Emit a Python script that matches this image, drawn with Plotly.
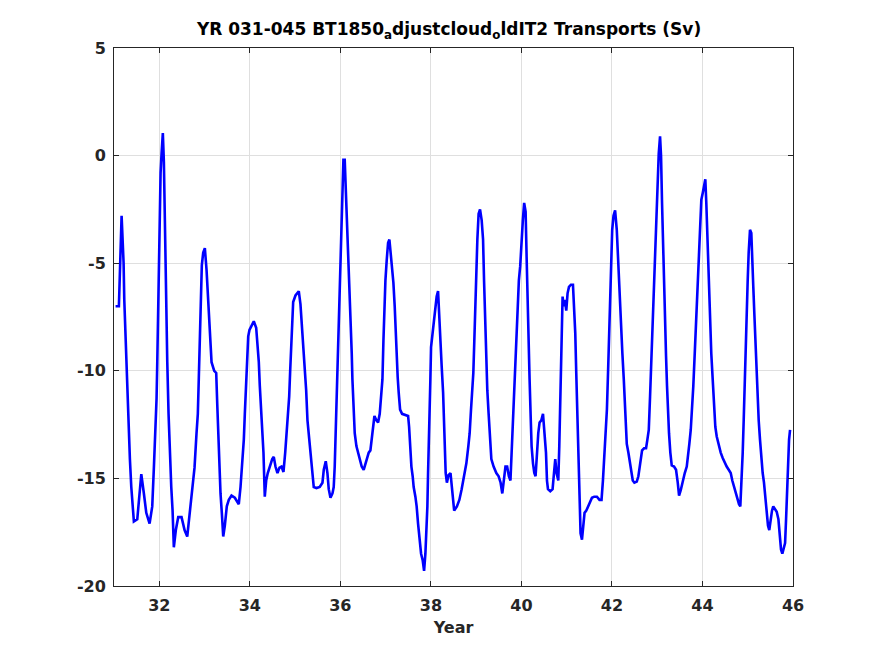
import plotly.graph_objects as go

# time (model year) and transport (Sv)
year = [
    31.035, 31.108, 31.168, 31.212, 31.227, 31.256, 31.278, 31.307, 31.329, 31.351,
    31.382, 31.411, 31.439, 31.514, 31.550, 31.603, 31.660, 31.713, 31.786, 31.845,
    31.881, 31.912, 31.940, 31.956, 31.978, 32.000, 32.029, 32.051, 32.079, 32.102,
    32.124, 32.146, 32.177, 32.205, 32.234, 32.265, 32.294, 32.322, 32.366, 32.419,
    32.492, 32.559, 32.618, 32.676, 32.728, 32.779, 32.823, 32.852, 32.874, 32.896,
    32.918, 32.940, 32.971, 33.007, 33.044, 33.073, 33.095, 33.126, 33.155, 33.214,
    33.258, 33.280, 33.302, 33.331, 33.353, 33.382, 33.413, 33.448, 33.492, 33.536,
    33.596, 33.669, 33.722, 33.757, 33.795, 33.832, 33.868, 33.890, 33.921, 33.943,
    33.965, 33.993, 34.038, 34.088, 34.141, 34.177, 34.199, 34.221, 34.252, 34.274,
    34.302, 34.331, 34.362, 34.397, 34.435, 34.464, 34.495, 34.530, 34.567, 34.611,
    34.656, 34.700, 34.744, 34.782, 34.810, 34.839, 34.870, 34.892, 34.914, 34.936,
    34.958, 35.009, 35.082, 35.119, 35.148, 35.179, 35.201, 35.223, 35.245, 35.274,
    35.302, 35.340, 35.369, 35.391, 35.413, 35.473, 35.545, 35.605, 35.634, 35.678,
    35.715, 35.744, 35.782, 35.826, 35.854, 35.876, 35.892, 35.914, 35.936, 35.958,
    35.974, 35.996, 36.018, 36.031, 36.046, 36.068, 36.097, 36.119, 36.141, 36.163,
    36.185, 36.207, 36.229, 36.252, 36.267, 36.289, 36.318, 36.355, 36.393, 36.428,
    36.472, 36.516, 36.576, 36.627, 36.664, 36.687, 36.715, 36.753, 36.797, 36.834,
    36.870, 36.901, 36.930, 36.952, 36.974, 36.996, 37.025, 37.055, 37.084, 37.113,
    37.144, 37.172, 37.201, 37.223, 37.245, 37.267, 37.289, 37.320, 37.364, 37.422,
    37.497, 37.519, 37.541, 37.570, 37.598, 37.620, 37.658, 37.686, 37.717, 37.746,
    37.784, 37.819, 37.850, 37.879, 37.901, 37.923, 37.938, 37.951, 37.973, 37.989,
    38.004, 38.027, 38.055, 38.077, 38.106, 38.128, 38.159, 38.181, 38.210, 38.239,
    38.270, 38.292, 38.305, 38.327, 38.354, 38.390, 38.434, 38.465, 38.487, 38.515,
    38.575, 38.629, 38.680, 38.740, 38.784, 38.828, 38.857, 38.887, 38.916, 38.938,
    38.960, 38.982, 39.004, 39.027, 39.055, 39.086, 39.122, 39.153, 39.175, 39.197,
    39.225, 39.247, 39.276, 39.307, 39.336, 39.386, 39.446, 39.497, 39.541, 39.578,
    39.613, 39.648, 39.685, 39.723, 39.758, 39.789, 39.818, 39.847, 39.877, 39.913,
    39.944, 39.973, 40.001, 40.032, 40.061, 40.093, 40.115, 40.137, 40.159, 40.181,
    40.203, 40.225, 40.256, 40.285, 40.313, 40.344, 40.373, 40.402, 40.440, 40.477,
    40.512, 40.543, 40.565, 40.587, 40.638, 40.689, 40.720, 40.748, 40.777, 40.815,
    40.837, 40.866, 40.888, 40.910, 40.932, 40.963, 40.991, 41.020, 41.051, 41.095,
    41.139, 41.168, 41.190, 41.212, 41.234, 41.256, 41.278, 41.307, 41.338, 41.367,
    41.395, 41.433, 41.477, 41.521, 41.559, 41.609, 41.668, 41.726, 41.770, 41.801,
    41.830, 41.858, 41.889, 41.918, 41.940, 41.962, 41.984, 42.006, 42.035, 42.070,
    42.107, 42.129, 42.151, 42.180, 42.202, 42.231, 42.262, 42.284, 42.306, 42.328,
    42.363, 42.401, 42.430, 42.460, 42.496, 42.549, 42.584, 42.615, 42.644, 42.666,
    42.710, 42.754, 42.783, 42.814, 42.842, 42.871, 42.893, 42.915, 42.931, 42.953,
    42.968, 42.990, 43.012, 43.034, 43.063, 43.085, 43.107, 43.129, 43.151, 43.173,
    43.195, 43.217, 43.243, 43.261, 43.290, 43.321, 43.372, 43.416, 43.454, 43.483,
    43.520, 43.564, 43.609, 43.653, 43.682, 43.710, 43.741, 43.770, 43.798, 43.829,
    43.861, 43.890, 43.921, 43.946, 43.975, 44.005, 44.041, 44.063, 44.085, 44.107,
    44.129, 44.151, 44.173, 44.195, 44.226, 44.255, 44.284, 44.315, 44.359, 44.403,
    44.447, 44.491, 44.535, 44.580, 44.624, 44.659, 44.697, 44.734, 44.769, 44.807,
    44.836, 44.867, 44.889, 44.911, 44.933, 44.955, 44.977, 44.999, 45.021, 45.050,
    45.079, 45.101, 45.123, 45.145, 45.167, 45.189, 45.211, 45.242, 45.271, 45.300,
    45.330, 45.359, 45.388, 45.419, 45.448, 45.476, 45.507, 45.536, 45.564, 45.602,
    45.640, 45.678, 45.706, 45.735, 45.764, 45.796, 45.825, 45.847, 45.869, 45.891,
    45.913, 45.935,
]

transport = [
    -7.0, -7.0, -2.8, -5.0, -6.7, -8.4, -10.4, -11.3, -12.7, -14.1,
    -15.4, -16.3, -17.0, -16.9, -16.0, -14.8, -15.7, -16.6, -17.1, -16.3,
    -14.5, -12.9, -11.3, -9.6, -6.2, -3.3, -0.8, 0.1, 1.05, -0.3,
    -3.75, -6.7, -9.6, -12.0, -14.1, -15.4, -16.5, -18.2, -17.4, -16.8,
    -16.8, -17.4, -17.7, -16.5, -15.7, -14.5, -12.9, -12.0, -10.3, -8.6,
    -6.9, -5.1, -4.5, -4.3, -5.3, -6.5, -7.6, -8.9, -9.6, -10.0,
    -10.1, -11.5, -13.1, -14.3, -15.7, -16.6, -17.7, -17.2, -16.3, -16.0,
    -15.8, -15.9, -16.1, -16.2, -15.4, -14.45, -13.2, -12.0, -10.4, -9.2,
    -8.4, -8.1, -7.9, -7.7, -8.0, -8.9, -9.6, -10.7, -11.8, -12.7,
    -13.8, -15.85, -15.1, -14.75, -14.45, -14.3, -14.1, -14.0, -14.45, -14.75,
    -14.5, -14.45, -14.7, -13.8, -13.05, -12.3, -11.2, -10.0, -8.6, -7.3,
    -6.8, -6.5, -6.3, -6.9, -7.8, -8.4, -9.3, -10.1, -10.9, -12.3,
    -12.9, -13.8, -14.3, -14.75, -15.4, -15.45, -15.4, -15.2, -14.6, -14.2,
    -14.75, -15.5, -15.9, -15.7, -15.4, -14.45, -13.2, -12.3, -10.4, -8.6,
    -6.85, -5.15, -3.6, -2.35, -1.6, -0.2, -0.2, -1.4, -2.35, -3.6,
    -4.85, -6.2, -7.6, -9.2, -10.4, -11.7, -12.9, -13.5, -13.8, -14.1,
    -14.45, -14.6, -14.2, -13.8, -13.7, -13.2, -12.6, -12.1, -12.3, -12.4,
    -12.0, -11.2, -10.4, -8.6, -6.7, -5.8, -4.85, -4.05, -3.9, -4.5,
    -5.45, -5.9, -7.0, -8.25, -9.3, -10.3, -11.0, -11.8, -12.0, -12.05,
    -12.1, -12.6, -13.5, -14.45, -14.9, -15.4, -15.85, -16.3, -17.1, -17.9,
    -18.5, -18.8, -19.3, -18.5, -17.55, -16.3, -14.75, -13.2, -11.65, -10.4,
    -8.9, -8.4, -7.9, -7.5, -7.0, -6.55, -6.3, -7.1, -8.6, -9.8,
    -11.0, -12.4, -13.5, -14.75, -15.2, -14.85, -14.75, -15.5, -16.0, -16.5,
    -16.3, -16.0, -15.5, -14.9, -14.3, -13.5, -12.9, -11.8, -10.9, -10.1,
    -8.6, -6.85, -5.45, -3.9, -2.7, -2.5, -3.0, -3.9, -5.8, -7.8,
    -9.8, -10.9, -12.0, -13.2, -14.1, -14.45, -14.75, -14.9, -15.2, -15.7,
    -15.1, -14.45, -14.45, -14.9, -15.1, -13.5, -12.0, -10.4, -8.9, -7.3,
    -5.8, -5.15, -3.9, -3.0, -2.2, -2.6, -4.7, -7.0, -8.9, -10.4,
    -12.0, -13.5, -14.3, -14.75, -14.9, -13.8, -12.9, -12.4, -12.3, -12.0,
    -12.9, -13.8, -15.1, -15.5, -15.6, -15.5, -14.75, -14.1, -14.75, -15.1,
    -13.5, -10.4, -8.1, -6.55, -7.0, -6.7, -7.2, -6.4, -6.1, -6.0,
    -6.0, -7.0, -8.25, -10.1, -12.0, -14.0, -16.0, -17.55, -17.85, -17.2,
    -16.6, -16.5, -16.3, -16.15, -15.9, -15.85, -15.85, -16.0, -16.0, -15.1,
    -14.1, -13.2, -11.8, -9.8, -7.95, -5.8, -4.2, -3.45, -2.8, -2.55,
    -3.45, -4.5, -5.9, -7.2, -8.1, -9.2, -10.4, -11.5, -12.6, -13.4,
    -13.8, -14.3, -14.75, -15.1, -15.2, -15.15, -14.9, -14.45, -14.1, -13.7,
    -13.6, -13.6, -13.2, -12.75, -11.2, -9.5, -7.95, -6.4, -5.15, -3.9,
    -3.0, -1.75, -0.65, 0.1, 0.9, -0.03, -2.2, -4.2, -6.4, -7.95,
    -9.3, -10.7, -12.3, -12.9, -13.8, -14.4, -14.45, -14.6, -15.2, -15.8,
    -15.55, -15.1, -14.75, -14.45, -14.0, -13.4, -12.75, -11.8, -10.7, -9.2,
    -7.6, -6.1, -4.5, -3.0, -2.05, -1.75, -1.4, -1.1, -2.2, -3.75,
    -5.45, -6.7, -7.95, -9.2, -10.4, -11.65, -12.6, -13.05, -13.5, -13.8,
    -14.05, -14.3, -14.45, -14.6, -14.75, -15.1, -15.4, -15.7, -16.0, -16.2,
    -16.3, -15.1, -13.8, -12.3, -10.4, -8.7, -7.3, -5.8, -4.5, -3.45,
    -3.6, -5.3, -6.1, -7.3, -8.55, -9.6, -11.0, -12.3, -13.2, -14.1,
    -14.75, -15.2, -15.85, -16.6, -17.2, -17.4, -16.9, -16.5, -16.3, -16.4,
    -16.55, -16.9, -17.7, -18.3, -18.5, -18.25, -18.0, -16.9, -15.4, -14.0,
    -13.2, -12.75,
]

x_ticks = [32, 34, 36, 38, 40, 42, 44, 46]
y_ticks = [-20, -15, -10, -5, 0, 5]
y_tick_labels = ["-20", "-15", "-10", "-5", "0", "5"]

title_text = "YR 031-045 BT1850<sub>a</sub>djustcloud<sub>o</sub>ldIT2 Transports (Sv)"

ink = "#262626"
font = "DejaVu Sans"

fig = go.Figure()
fig.add_trace(go.Scatter(x=year, y=transport, mode="lines",
                         line=dict(color="#0000ff", width=2.6),
                         showlegend=False, hoverinfo="skip"))

axis_style = dict(
    showline=True, linecolor=ink, linewidth=1, mirror="ticks",
    ticks="inside", ticklen=5, tickcolor=ink,
    showgrid=True, gridcolor="#dfdfdf", gridwidth=1,
    zeroline=False,
    tickfont=dict(family=font, size=16, color=ink, weight="bold"),
)

fig.update_xaxes(range=[31, 46], tickvals=x_ticks, ticklabelstandoff=5,
                 title=dict(text="<b>Year</b>", standoff=7,
                            font=dict(family=font, size=16, color=ink)),
                 **axis_style)
fig.update_yaxes(range=[-20, 5], tickvals=y_ticks, ticktext=y_tick_labels,
                 ticklabelstandoff=4, **axis_style)

# page body adds an 8px offset, so the figure is sized to fit the window
fig.update_layout(
    width=867, height=648,
    margin=dict(l=106, r=82, t=40, b=70),
    paper_bgcolor="white", plot_bgcolor="white",
    title=dict(text="<b>" + title_text + "</b>", x=0.5087, xanchor="center",
               y=0.967, yref="container", yanchor="middle",
               font=dict(family=font, size=17, color="black")),
)

fig.write_html("out.html")
